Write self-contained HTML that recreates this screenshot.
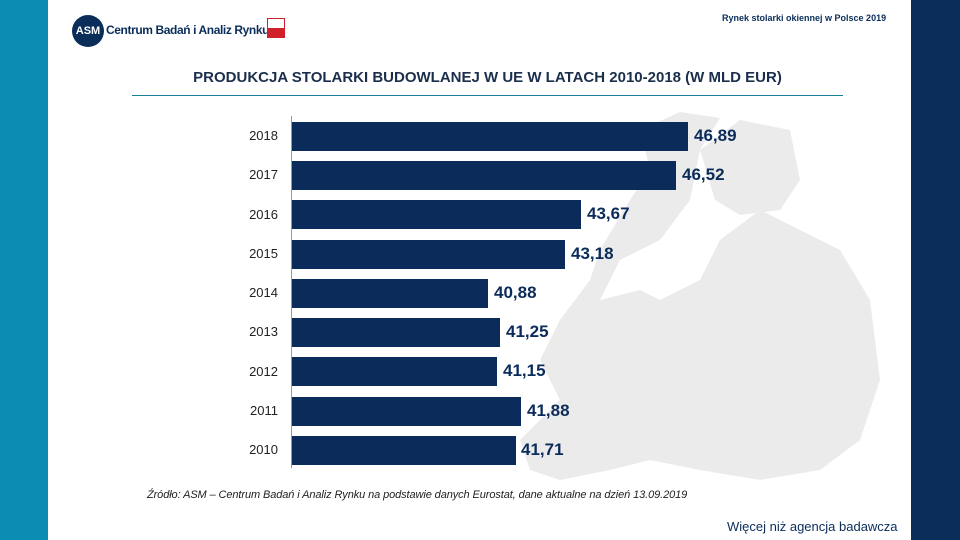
<!DOCTYPE html>
<html><head><meta charset="utf-8"><style>
body{margin:0;width:960px;height:540px;position:relative;background:#fff;font-family:"Liberation Sans",sans-serif;overflow:hidden}
.a{position:absolute}
.yr{position:absolute;left:222px;width:56px;text-align:right;font-size:13px;color:#222}
.bar{position:absolute;left:292px;height:29px;background:#0b2c5a}
.val{position:absolute;font-size:17px;font-weight:bold;color:#0b2c5a}
</style></head><body>
<div class="a" style="left:0;top:0;width:48px;height:540px;background:#0b8db3"></div>
<div class="a" style="left:911px;top:0;width:49px;height:540px;background:#0a2d5a"></div>
<svg class="a" style="left:0;top:0" width="960" height="540">
<g fill="#ebebeb">
<polygon points="640,130 680,112 720,118 700,150 690,200 660,240 620,260 600,300 640,290 660,300 700,280 720,240 760,210 800,230 840,250 870,300 880,380 860,440 820,470 760,480 700,470 650,460 610,470 560,480 530,470 520,440 560,400 540,360 560,320 590,280 600,250 630,200 650,170"/>
<polygon points="700,150 740,120 790,130 800,180 780,210 740,215 715,200"/>
</g>
</svg>
<div class="a" style="left:72px;top:15px;width:32px;height:32px;border-radius:50%;background:#0a2d5a;color:#fff;font-weight:bold;font-size:11px;line-height:32px;text-align:center">ASM</div>
<div class="a" style="left:106px;top:23px;font-size:12px;letter-spacing:-0.4px;font-weight:bold;color:#0a2d5a">Centrum Badań i Analiz Rynku</div>
<div class="a" style="left:267px;top:18px;width:16px;height:18px;background:linear-gradient(#fff 50%,#d0202a 50%);border:1px solid #d0202a"></div>
<div class="a" style="left:722px;top:13px;font-size:9px;font-weight:bold;color:#0a2d5a">Rynek stolarki okiennej w Polsce 2019</div>
<div class="a" style="left:132px;top:69px;width:711px;text-align:center;font-size:15px;font-weight:bold;color:#1b2f4d">PRODUKCJA STOLARKI BUDOWLANEJ W UE W LATACH 2010-2018 (W MLD EUR)</div>
<div class="a" style="left:132px;top:95px;width:711px;height:1px;background:#1a7f9f"></div>
<div class="a" style="left:291px;top:116px;width:1px;height:352px;background:#999"></div>
<div class="yr" style="top:128px">2018</div><div class="bar" style="top:122px;width:396px"></div><div class="val" style="left:694px;top:126px">46,89</div>
<div class="yr" style="top:167px">2017</div><div class="bar" style="top:161px;width:384px"></div><div class="val" style="left:682px;top:165px">46,52</div>
<div class="yr" style="top:207px">2016</div><div class="bar" style="top:200px;width:289px"></div><div class="val" style="left:587px;top:204px">43,67</div>
<div class="yr" style="top:246px">2015</div><div class="bar" style="top:240px;width:273px"></div><div class="val" style="left:571px;top:244px">43,18</div>
<div class="yr" style="top:285px">2014</div><div class="bar" style="top:279px;width:196px"></div><div class="val" style="left:494px;top:283px">40,88</div>
<div class="yr" style="top:324px">2013</div><div class="bar" style="top:318px;width:208px"></div><div class="val" style="left:506px;top:322px">41,25</div>
<div class="yr" style="top:364px">2012</div><div class="bar" style="top:357px;width:205px"></div><div class="val" style="left:503px;top:361px">41,15</div>
<div class="yr" style="top:403px">2011</div><div class="bar" style="top:397px;width:229px"></div><div class="val" style="left:527px;top:401px">41,88</div>
<div class="yr" style="top:442px">2010</div><div class="bar" style="top:436px;width:224px"></div><div class="val" style="left:521px;top:440px">41,71</div>
<div class="a" style="left:147px;top:489px;font-size:11px;font-style:italic;color:#222;letter-spacing:-0.1px">Źródło: ASM – Centrum Badań i Analiz Rynku na podstawie danych Eurostat, dane aktualne na dzień 13.09.2019</div>
<div class="a" style="left:727px;top:519px;font-size:13px;color:#0a2d5a">Więcej niż agencja badawcza</div>
</body></html>
